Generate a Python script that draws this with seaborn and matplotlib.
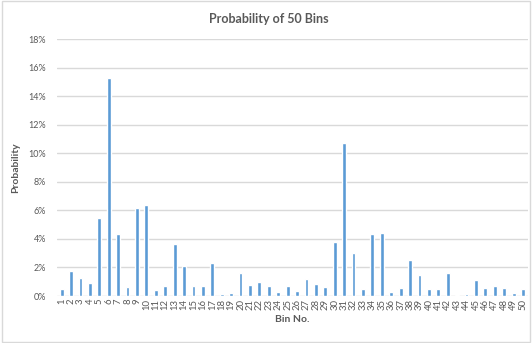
import numpy as np
import pandas as pd
import matplotlib
matplotlib.use("Agg")
import matplotlib.pyplot as plt
from matplotlib.patches import Rectangle
from matplotlib.ticker import PercentFormatter
import seaborn as sns

# bins 1..50 and their probabilities (in %)
bins = [str(i) for i in range(1, 51)]
probs = [0.49, 1.74, 1.26, 0.88, 5.49, 15.26, 4.33, 0.63, 6.16, 6.37,
         0.40, 0.72, 3.65, 2.12, 0.72, 0.72, 2.30, 0.16, 0.21, 1.60,
         0.79, 0.98, 0.72, 0.30, 0.67, 0.35, 1.19, 0.86, 0.63, 3.81,
         10.70, 3.02, 0.49, 4.33, 4.44, 0.28, 0.53, 2.53, 1.47, 0.49,
         0.49, 1.60, 0.09, 0.14, 1.12, 0.53, 0.70, 0.56, 0.21, 0.49]

df = pd.DataFrame({"bin": bins, "prob": np.array(probs) / 100})

sns.set_theme(style="white")
plt.rcParams['font.family'] = ['Lato', 'DejaVu Sans']

text_col = "#595959"
grid_col = "#D9D9D9"
bar_col = "#5B9BD5"

fig = plt.figure(figsize=(5.32, 3.43), dpi=100)
ax = fig.add_axes([0.107, 0.137, 0.885, 0.749])

sns.barplot(data=df, x="bin", y="prob", color=bar_col, width=0.4,
            saturation=1, ax=ax)

ax.set_axisbelow(True)
ax.set_ylim(0, 0.18)
ax.set_yticks(np.arange(0, 0.181, 0.02))
ax.yaxis.set_major_formatter(PercentFormatter(1.0, decimals=0))
ax.grid(axis="y", color=grid_col, linewidth=1)
for s in ax.spines.values():
    s.set_visible(False)

ax.tick_params(axis="y", labelsize=6.5, colors=text_col, length=0, pad=8)
ax.tick_params(axis="x", labelsize=6.8, colors=text_col, length=0, pad=2,
               labelrotation=90)

ax.set_xlabel("Bin No.", fontsize=7.5, fontweight="bold", color=text_col, labelpad=4)
ax.set_ylabel("Probability", fontsize=7.5, fontweight="bold", color=text_col, labelpad=6)
fig.text(0.505, 0.945, "Probability of 50 Bins", ha="center", va="center",
         fontsize=9, fontweight="bold", color=text_col)

fig.patches.append(Rectangle((0.003, 0.003), 0.994, 0.994, transform=fig.transFigure,
                             fill=False, edgecolor=grid_col, linewidth=1))

fig.savefig("out.png", dpi=100)
